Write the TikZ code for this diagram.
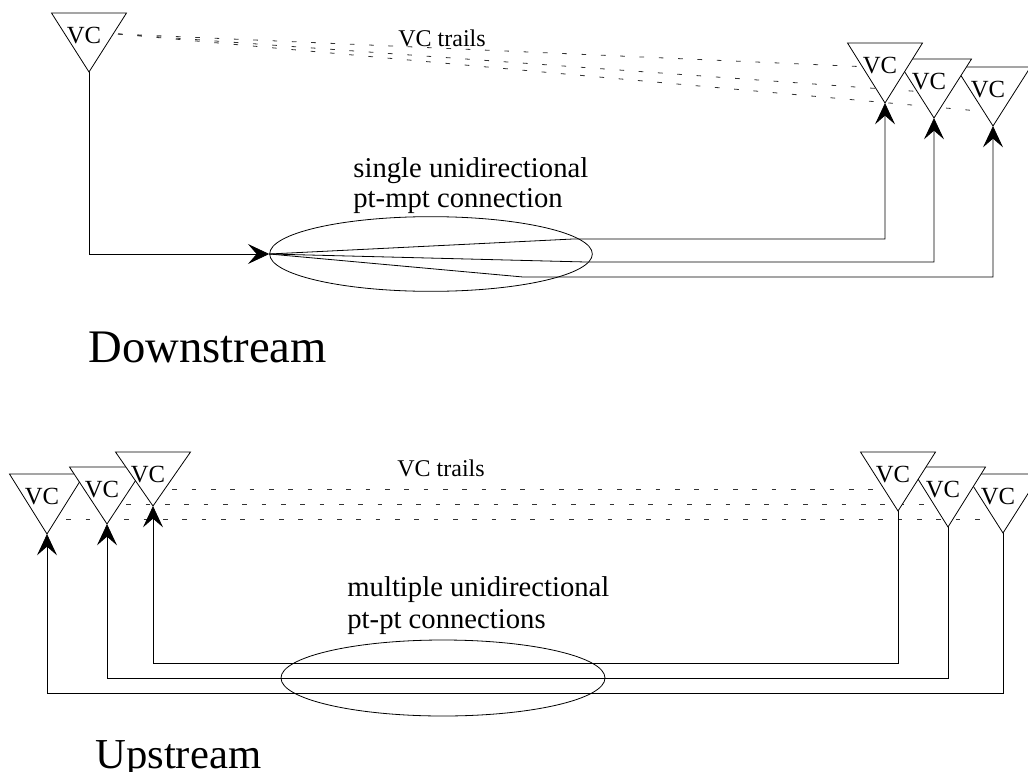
\documentclass[tikz,border=0pt]{standalone}
\usepackage{fontspec}
\setmainfont{Liberation Serif}
\usetikzlibrary{arrows.meta,shapes.geometric}
\begin{document}
\begin{tikzpicture}[x=0.75pt,y=-0.75pt,
  line width=0.6pt,
  tri/.style={draw=black,fill=white,line join=miter},
  vclabel/.style={font=\fontsize{18.5}{20}\selectfont,inner sep=0pt},
  trail/.style={black!80,line width=0.6pt,dash pattern=on 3.5pt off 11pt},
  conn/.style={draw=black,-{Stealth[length=16pt,width=15pt,inset=6.5pt]}},
  ring/.style={draw=black,ellipse,inner sep=0pt,fill=none},
  small/.style={font=\fontsize{18}{20}\selectfont,inner sep=0pt,anchor=base west},
  body/.style={font=\fontsize{21.5}{25}\selectfont,inner sep=0pt,anchor=base west},
  big/.style={font=\fontsize{35}{40}\selectfont,inner sep=0pt,anchor=base west},
  pics/vctri/.style={code={
     \path[tri] (-37.5,-#1) -- (37.5,-#1) -- (0,0) -- cycle;
     \node[vclabel] (-label) at (-5,-#1+23) {VC};
     \coordinate (-apex) at (0,0);
  }},
  pics/vctri/.default=59]
\useasboundingbox (0,0) rectangle (1028,771);

% ---------- Downstream ----------
\coordinate (ts) at (118,34);
\coordinate (te1) at (870,67);
\coordinate (te2) at (925,92);
\coordinate (te3) at (990,112);
\draw[trail] (ts) -- (te1);
\draw[trail] (ts) -- (te2);
\draw[trail] (ts) -- (te3);

\pic (t0) at (89,72) {vctri};
\pic (t3) at (993,126) {vctri};
\pic (t2) at (934,118) {vctri};
\pic (t1) at (885,103) {vctri=60};

\node[ring, minimum width=242pt, minimum height=56pt] (e1) at (431,254) {};

\coordinate (f1) at (573,239);
\coordinate (f2) at (586,262);
\coordinate (f3) at (523,277);
\draw[conn] (t0-apex) |- (e1.west);
\draw[conn] (e1.west) -- (f1) -| (t1-apex);
\draw[conn] (e1.west) -- (f2) -| (t2-apex);
\draw[conn] (e1.west) -- (f3) -| (t3-apex);

\node[small] (trtop) at (398,46) {VC trails};
\node[body] (s1) at (353,177) {single unidirectional};
\node[body] (s2) at (353,207) {pt-mpt connection};
\node[big] (down) at (88,362) {Downstream};

% ---------- Upstream ----------
\coordinate (u1a) at (153,489);
\coordinate (u1b) at (898,489);
\coordinate (u2a) at (107,504);
\coordinate (u2b) at (948,504);
\coordinate (u3a) at (47,519);
\coordinate (u3b) at (1003,519);
\draw[trail] (u1a) -- (u1b);
\draw[trail] (u2a) -- (u2b);
\draw[trail] (u3a) -- (u3b);

\pic (b1) at (47,534) {vctri=60};
\pic (b2) at (107,524) {vctri=57};
\pic (b3) at (153,506) {vctri=54};
\pic (c3) at (1003,533) {vctri};
\pic (c2) at (948,527) {vctri=60};
\pic (c1) at (898,511) {vctri};

\node[ring, minimum width=243pt, minimum height=57pt] (e2) at (443,678) {};

\coordinate (h1) at (0,663);
\coordinate (h2) at (0,678);
\coordinate (h3) at (0,693);
\draw[conn] (c1-apex) -- (c1-apex |- h1) -- (b3-apex |- h1) -- (b3-apex);
\draw[conn] (c2-apex) -- (c2-apex |- h2) -- (b2-apex |- h2) -- (b2-apex);
\draw[conn] (c3-apex) -- (c3-apex |- h3) -- (b1-apex |- h3) -- (b1-apex);

\node[small] (trbot) at (397,476) {VC trails};
\node[body] (m1) at (347,596) {multiple unidirectional};
\node[body] (m2) at (347,628) {pt-pt connections};
\node[big, font=\fontsize{32}{36}\selectfont] (up) at (95,768) {Upstream};
\end{tikzpicture}
\end{document}
